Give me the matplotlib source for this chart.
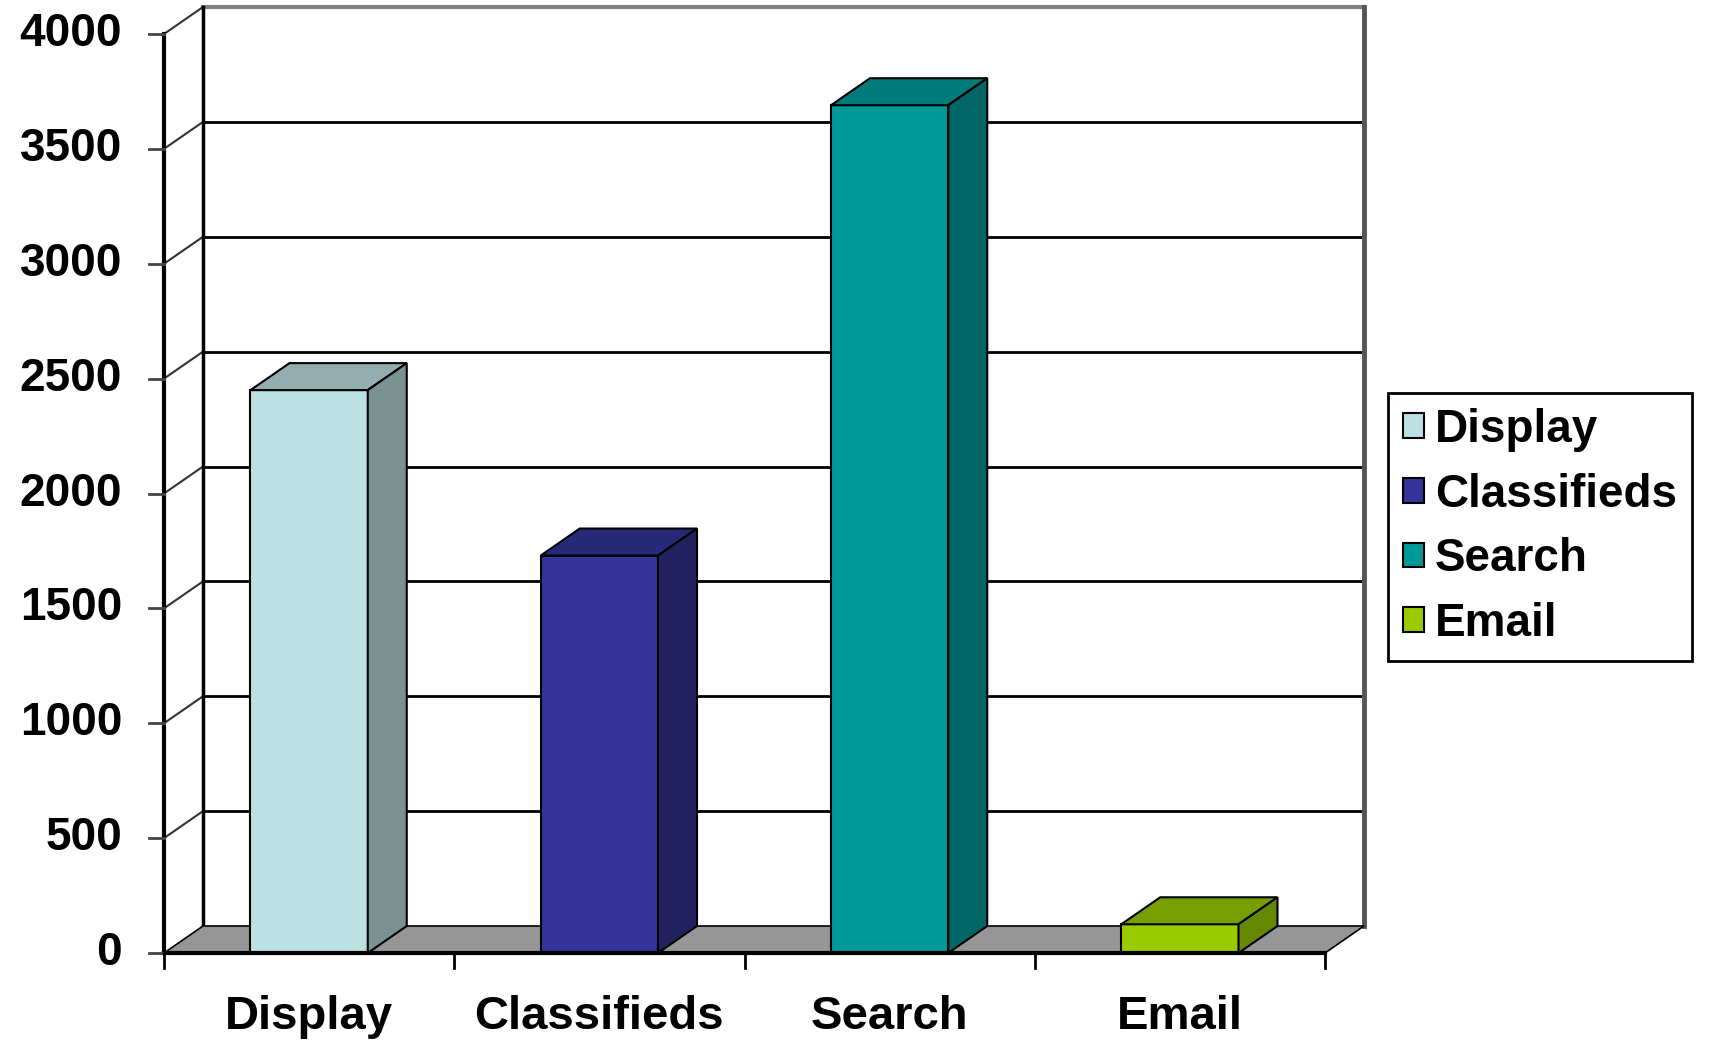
import matplotlib.pyplot as plt
from matplotlib.patches import Rectangle, Polygon, Patch

plt.rcParams['font.family'] = ['Liberation Sans', 'DejaVu Sans']

# Data
categories = ['Display', 'Classifieds', 'Search', 'Email']
values = [2450, 1730, 3690, 125]
y_ticks = [0, 500, 1000, 1500, 2000, 2500, 3000, 3500, 4000]

front_colors = ['#BBE0E3', '#333399', '#009999', '#99CC00']
top_colors = ['#93AEB0', '#29297A', '#007A7A', '#779F00']
side_colors = ['#7A9292', '#222260', '#006666', '#668800']

# Figure laid out in pixel-like terms: 1 category = 290.25 px, 1 unit = 0.22975 px
W, H = 1722, 1040
x_scale = 290.25
y_scale = 0.22975
x0_px, y0_px = 164, 953

fig = plt.figure(figsize=(W / 100, H / 100), dpi=100)
ax = fig.add_axes([0, 0, 1, 1])
ax.set_xlim(-x0_px / x_scale, (W - x0_px) / x_scale)
ax.set_ylim(-(H - y0_px) / y_scale, y0_px / y_scale)
ax.axis('off')

# depth offset of the 3D box
DX = 39 / x_scale
DY = 27 / y_scale
n = len(categories)
ymax = 4000

# back wall gridlines
for v in y_ticks[1:]:
    col = '#808080' if v == ymax else 'black'
    lw = 3 if v == ymax else 2
    ax.plot([DX, n + DX], [v + DY, v + DY], color=col, lw=lw, zorder=1)
    # side wall diagonal
    ax.plot([0, DX], [v, v + DY], color='#333333', lw=1.5, zorder=1)

# back wall edges
ax.plot([DX, DX], [DY, ymax + DY], color='black', lw=2.5, zorder=1)
ax.plot([n + DX, n + DX], [DY, ymax + DY], color='#555555', lw=3.5, zorder=1)

# floor
floor = Polygon([(0, 0), (n, 0), (n + DX, DY), (DX, DY)], closed=True,
                facecolor='#969696', edgecolor='black', lw=1.2, zorder=2)
ax.add_patch(floor)

# front axes
ax.plot([0, 0], [0, ymax], color='black', lw=3, zorder=5)
ax.plot([0, n], [0, 0], color='black', lw=3, zorder=5)
for v in y_ticks:
    ax.plot([-15 / x_scale, 0], [v, v], color='#444444', lw=2, zorder=5)
    ax.text(-42 / x_scale, v, str(v), ha='right', va='center',
            fontsize=33, fontweight='bold')
for i in range(n + 1):
    ax.plot([i, i], [0, -15 / y_scale], color='black', lw=2, zorder=5)

# bars
w = 0.404
for i, v in enumerate(values):
    x = i + 0.5 - w / 2
    ax.add_patch(Rectangle((x, 0), w, v, facecolor=front_colors[i],
                           edgecolor='black', lw=1.5, zorder=3))
    ax.add_patch(Polygon([(x, v), (x + w, v), (x + w + DX, v + DY), (x + DX, v + DY)],
                         closed=True, facecolor=top_colors[i],
                         edgecolor='black', lw=1.5, zorder=3))
    ax.add_patch(Polygon([(x + w, 0), (x + w + DX, DY), (x + w + DX, v + DY), (x + w, v)],
                         closed=True, facecolor=side_colors[i],
                         edgecolor='black', lw=1.5, zorder=3))

# category labels
for i, c in enumerate(categories):
    ax.text(i + 0.5, -(1017 - y0_px) / y_scale, c, ha='center', va='center',
            fontsize=34, fontweight='bold')

# legend
handles = [Patch(facecolor=front_colors[i], edgecolor='black', lw=1.5, label=c)
           for i, c in enumerate(categories)]
leg = fig.legend(handles=handles, loc='upper left',
                 bbox_to_anchor=(1388 / W, 1 - 393 / H),
                 prop={'size': 33, 'weight': 'bold'},
                 handlelength=0.45, handleheight=0.45, handletextpad=0.25,
                 labelspacing=0.45, borderpad=0.33, borderaxespad=0,
                 fancybox=False, framealpha=1)
leg.get_frame().set_edgecolor('black')
leg.get_frame().set_linewidth(2)

fig.savefig('out.png', dpi=100)
